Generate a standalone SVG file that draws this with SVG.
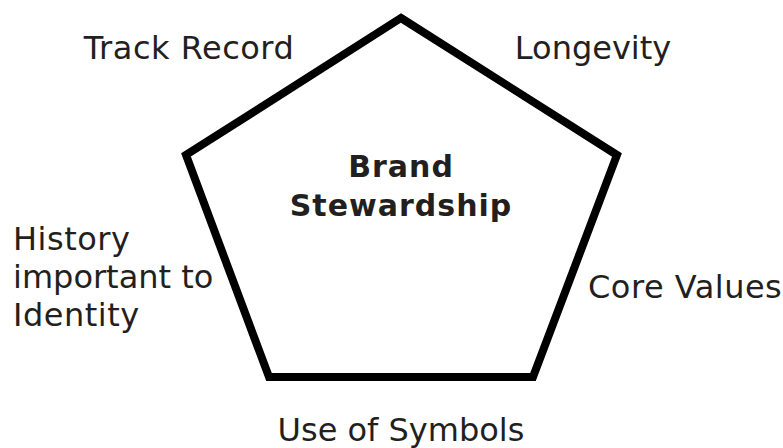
<svg xmlns="http://www.w3.org/2000/svg" width="783" height="448" viewBox="0 0 783 448">
<style>
.lbl{font-family:"DejaVu Sans",Verdana,sans-serif;font-size:32px;letter-spacing:0.5px;fill:#231f20}
.title{font-family:"DejaVu Sans",Verdana,sans-serif;font-size:30px;font-weight:bold;letter-spacing:1px;fill:#231f20;text-anchor:middle}
.shape{fill:#fff;stroke:#000;stroke-width:8;stroke-linejoin:miter}
</style>
<rect width="783" height="448" fill="#fff"/>
<g id="pentagon">
<polygon class="shape" points="401,18 617,155 533,377 269,377 186,155"/>
<text class="title" x="401" y="177">Brand</text>
<text class="title" x="401" y="216">Stewardship</text>
</g>
<g id="track-record"><text class="lbl" x="189" y="59" text-anchor="middle">Track Record</text></g>
<g id="longevity"><text class="lbl" x="593" y="59" text-anchor="middle" style="letter-spacing:0">Longevity</text></g>
<g id="history"><text class="lbl" x="13" y="250">History</text><text class="lbl" x="13" y="288" style="letter-spacing:0">important to</text><text class="lbl" x="13" y="326">Identity</text></g>
<g id="core-values"><text class="lbl" x="588" y="298">Core Values</text></g>
<g id="symbols"><text class="lbl" x="401" y="441" text-anchor="middle" style="letter-spacing:0">Use of Symbols</text></g>
<g id="connectors"></g>
</svg>
